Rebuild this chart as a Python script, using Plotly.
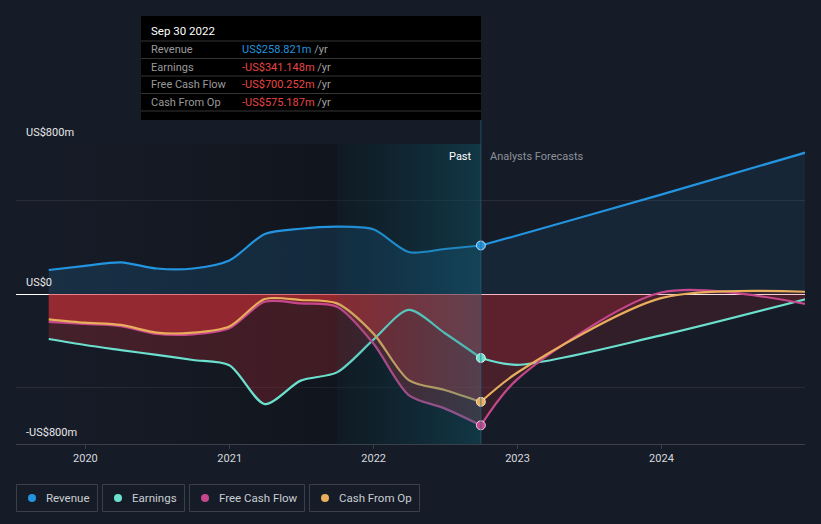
import plotly.graph_objects as go
import pandas as pd

# ---------------- data ----------------
past_dates = ['2019-09-30', '2019-12-31', '2020-03-31', '2020-06-30', '2020-09-30',
              '2020-12-31', '2021-03-31', '2021-06-30', '2021-09-30', '2021-12-31',
              '2022-03-31', '2022-06-30', '2022-09-30']
revenue_past = [128, 150, 169, 136, 136, 179, 320, 348, 359, 345, 224, 240, 258.821]
earnings_past = [-240, -272, -299, -325, -352, -380, -587, -462, -418, -245, -85, -208, -341.148]
fcf_past = [-149, -160, -171, -213, -215, -183, -41, -50, -68, -263, -539, -610, -700.252]
cfo_past = [-135, -153, -165, -206, -206, -173, -27, -32, -50, -210, -459, -512, -575.187]

fc_dates = ['2022-09-30', '2022-12-31', '2023-12-31', '2024-12-31']
revenue_fc = [258.821, 312, 530, 754]
earnings_fc = [-341.148, -378, -221, -28]
fcf_fc = [-700.252, -455, 8, -53]
cfo_fc = [-575.187, -420, -22, 12]

x_tick_vals = ['2020-01-01', '2021-01-01', '2022-01-01', '2023-01-01', '2024-01-01']
x_tick_text = ['2020', '2021', '2022', '2023', '2024']
y_grid_vals = [-800, -500, 500, 800]
y_label_vals = [800, 0, -800]
y_label_text = ['US$800m', 'US$0', '-US$800m']
series_names = ['Revenue', 'Earnings', 'Free Cash Flow', 'Cash From Op']
tooltip_title = 'Sep 30 2022'

# ---------------- style ----------------
W, H = 821, 524
ML, MR, MT, MB = 16, 16, 144, 80
PW, PH = W - ML - MR, H - MT - MB
BG = '#161c27'
C_REV, C_EARN, C_FCF, C_CFO = '#2394df', '#6ce0cf', '#c6478c', '#e9ae5c'
colors = [C_REV, C_EARN, C_FCF, C_CFO]
RED_TXT = '#e84646'
FONT = 'Roboto, sans-serif'
X_RANGE = ['2019-07-09', '2024-12-30']


def px(x):
    return (x - ML) / PW


def py(y):
    return (H - MB - y) / PH


last = pd.Timestamp(past_dates[-1])
first = pd.Timestamp(past_dates[0])
band_start = last - pd.DateOffset(years=1)

fig = go.Figure()

# past darkening gradient
frac = (band_start - first) / (last - first)
fig.add_trace(go.Scatter(
    x=[first, last, last, first, first], y=[-800, -800, 800, 800, -800],
    mode='lines', line=dict(width=0), fill='toself',
    fillgradient=dict(type='horizontal', colorscale=[[0, 'rgba(0,0,0,0)'], [frac, 'rgba(0,0,0,0.25)'], [1, 'rgba(0,0,0,0.25)']]),
    hoverinfo='skip', showlegend=False))

# fills
def fill_trace(x, y, color):
    return go.Scatter(x=x, y=y, mode='lines', line=dict(width=0, shape='spline', smoothing=0.8),
                      fill='tozeroy', fillcolor=color, hoverinfo='skip', showlegend=False)

fig.add_trace(fill_trace(past_dates, revenue_past, 'rgba(35,148,223,0.16)'))
fig.add_trace(fill_trace(fc_dates, revenue_fc, 'rgba(35,148,223,0.09)'))
fig.add_trace(fill_trace(past_dates, earnings_past, 'rgba(230,50,60,0.22)'))
fig.add_trace(fill_trace(past_dates, fcf_past, 'rgba(230,50,60,0.29)'))
fig.add_trace(fill_trace(past_dates, cfo_past, 'rgba(230,50,60,0.29)'))
for ys in (earnings_fc, fcf_fc, cfo_fc):
    fig.add_trace(fill_trace(fc_dates, ys, 'rgba(230,50,60,0.13)'))

# lines
for past_y, fc_y, c in [(revenue_past, revenue_fc, C_REV), (earnings_past, earnings_fc, C_EARN),
                         (fcf_past, fcf_fc, C_FCF), (cfo_past, cfo_fc, C_CFO)]:
    for xx, yy in ((past_dates, past_y), (fc_dates, fc_y)):
        fig.add_trace(go.Scatter(x=xx, y=yy, mode='lines',
                                 line=dict(color=c, width=2.2, shape='spline', smoothing=0.8),
                                 hoverinfo='skip', showlegend=False))

# one-year highlight band
fig.add_trace(go.Scatter(
    x=[band_start, last, last, band_start, band_start], y=[-800, -800, 800, 800, -800],
    mode='lines', line=dict(width=0), fill='toself',
    fillgradient=dict(type='horizontal', colorscale=[[0, 'rgba(10,90,110,0.08)'], [1, 'rgba(20,110,135,0.38)']]),
    hoverinfo='skip', showlegend=False))

# markers at last actual
last_vals = [revenue_past[-1], earnings_past[-1], fcf_past[-1], cfo_past[-1]]
fig.add_trace(go.Scatter(x=[last] * 4, y=last_vals, mode='markers',
                         marker=dict(size=9, color=colors, line=dict(color='rgba(255,255,255,0.75)', width=1)),
                         hoverinfo='skip', showlegend=False))

shapes = []
annotations = []

# vertical "today" line
shapes.append(dict(type='line', xref='x', yref='paper', x0=last, x1=last, y0=0, y1=py(120),
                   line=dict(color='rgba(40,100,125,0.7)', width=1), layer='above'))

# tooltip box
shapes.append(dict(type='rect', xref='paper', yref='paper', x0=px(141), x1=px(481), y0=py(120), y1=py(16),
                   fillcolor='#000000', line=dict(width=0), layer='above'))
for sy in (41, 58.5, 76, 93.5, 111):
    shapes.append(dict(type='line', xref='paper', yref='paper', x0=px(141), x1=px(481), y0=py(sy), y1=py(sy),
                       line=dict(color='#353535', width=1), layer='above'))
annotations.append(dict(xref='paper', yref='paper', x=px(149), y=py(31), xanchor='left', yanchor='middle',
                        text=tooltip_title, showarrow=False, font=dict(family=FONT, size=11.5, color='#ffffff')))


def fmt(v):
    s = 'US$%.3fm' % abs(v)
    return ('-' + s) if v < 0 else s


for i, (name, v) in enumerate(zip(series_names, last_vals)):
    yy = [49.5, 67, 84.5, 102][i]
    annotations.append(dict(xref='paper', yref='paper', x=px(149), y=py(yy), xanchor='left', yanchor='middle',
                            text=name, showarrow=False, font=dict(family=FONT, size=11, color='#9a9a9a')))
    vc = C_REV if v >= 0 else RED_TXT
    annotations.append(dict(xref='paper', yref='paper', x=px(240), y=py(yy), xanchor='left', yanchor='middle',
                            text='<span style="color:%s">%s</span><span style="color:#a0a0a0"> /yr</span>' % (vc, fmt(v)),
                            showarrow=False, font=dict(family=FONT, size=11, color='#a0a0a0')))

# y labels
for v, t in zip(y_label_vals, y_label_text):
    annotations.append(dict(xref='paper', yref='y', x=px(24), y=v, xanchor='left', yanchor='bottom', yshift=3,
                            text=t, showarrow=False, font=dict(family=FONT, size=11, color='#e6e8eb')))

# Past / Analysts Forecasts
annotations.append(dict(xref='x', yref='paper', x=last, y=py(156), xanchor='right', yanchor='middle', xshift=-7,
                        text='Past', showarrow=False, font=dict(family=FONT, size=11, color='#ffffff')))
annotations.append(dict(xref='x', yref='paper', x=last, y=py(156), xanchor='left', yanchor='middle', xshift=7,
                        text='Analysts Forecasts', showarrow=False, font=dict(family=FONT, size=11, color='#8c9099')))

# legend boxes
legend_boxes = [(16.5, 97.5), (102.5, 184.5), (189.5, 304.5), (309.5, 419.5)]
for (x0, x1), name, c in zip(legend_boxes, series_names, colors):
    shapes.append(dict(type='rect', xref='paper', yref='paper', x0=px(x0), x1=px(x1), y0=py(511.5), y1=py(484.5),
                       line=dict(color='#3a3f4a', width=1), fillcolor='rgba(0,0,0,0)', layer='above'))
    shapes.append(dict(type='circle', xref='paper', yref='paper', xsizemode='pixel', ysizemode='pixel',
                       xanchor=px(x0 + 15.5), yanchor=py(498), x0=-4, x1=4, y0=-4, y1=4,
                       fillcolor=c, line=dict(width=0), layer='above'))
    annotations.append(dict(xref='paper', yref='paper', x=px(x0 + 27.5), y=py(498), xanchor='left', yanchor='middle',
                            text=name, showarrow=False, font=dict(family=FONT, size=11.5, color='#c9ccd1')))

fig.update_layout(
    width=W, height=H, margin=dict(l=ML, r=MR, t=MT, b=MB),
    paper_bgcolor=BG, plot_bgcolor=BG, showlegend=False,
    font=dict(family=FONT),
    shapes=shapes, annotations=annotations, hovermode=False,
    xaxis=dict(type='date', range=X_RANGE, tickvals=x_tick_vals, ticktext=x_tick_text,
               showgrid=False, zeroline=False, showline=True, linecolor='#3a3f4a', linewidth=1,
               ticks='outside', ticklen=4, tickcolor='#3a3f4a',
               tickfont=dict(family=FONT, size=11, color='#d6d9de'), fixedrange=True),
    yaxis=dict(range=[-800, 800], tickvals=y_grid_vals, showticklabels=False,
               showgrid=True, gridcolor='#272c36', gridwidth=1,
               zeroline=True, zerolinecolor='#ffffff', zerolinewidth=1, fixedrange=True),
)

fig.write_html('out.html', config={'displayModeBar': False},
               post_script="document.body.style.margin='0';document.body.style.overflow='hidden';"
                           "document.body.style.background='%s';" % BG)
